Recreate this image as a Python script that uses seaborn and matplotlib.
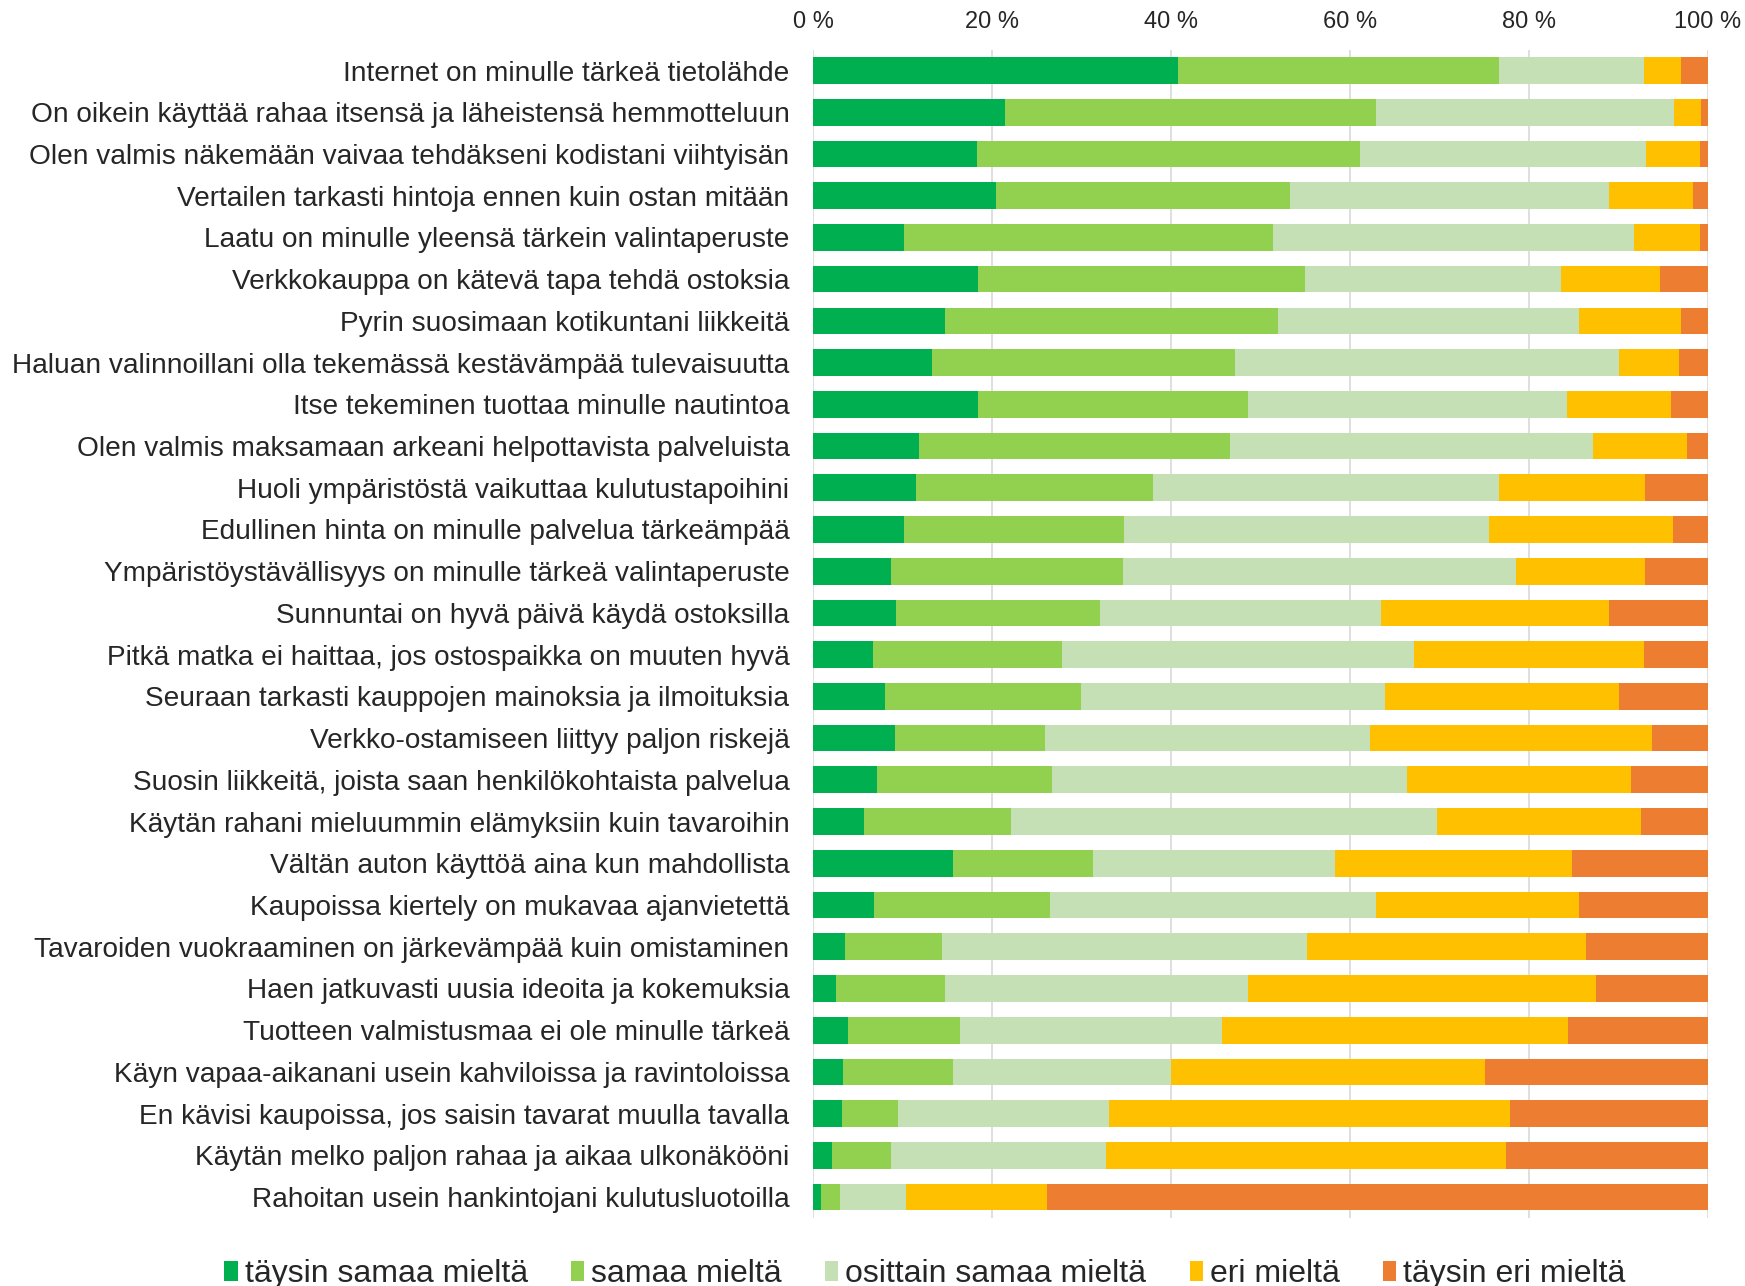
import matplotlib
matplotlib.use("Agg")
import matplotlib.pyplot as plt
from matplotlib.patches import Patch
import seaborn as sns
import pandas as pd
import numpy as np

statements = [
    "Internet on minulle tärkeä tietolähde",
    "On oikein käyttää rahaa itsensä ja läheistensä hemmotteluun",
    "Olen valmis näkemään vaivaa tehdäkseni kodistani viihtyisän",
    "Vertailen tarkasti hintoja ennen kuin ostan mitään",
    "Laatu on minulle yleensä tärkein valintaperuste",
    "Verkkokauppa on kätevä tapa tehdä ostoksia",
    "Pyrin suosimaan kotikuntani liikkeitä",
    "Haluan valinnoillani olla tekemässä kestävämpää tulevaisuutta",
    "Itse tekeminen tuottaa minulle nautintoa",
    "Olen valmis maksamaan arkeani helpottavista palveluista",
    "Huoli ympäristöstä vaikuttaa kulutustapoihini",
    "Edullinen hinta on minulle palvelua tärkeämpää",
    "Ympäristöystävällisyys on minulle tärkeä valintaperuste",
    "Sunnuntai on hyvä päivä käydä ostoksilla",
    "Pitkä matka ei haittaa, jos ostospaikka on muuten hyvä",
    "Seuraan tarkasti kauppojen mainoksia ja ilmoituksia",
    "Verkko-ostamiseen liittyy paljon riskejä",
    "Suosin liikkeitä, joista saan henkilökohtaista palvelua",
    "Käytän rahani mieluummin elämyksiin kuin tavaroihin",
    "Vältän auton käyttöä aina kun mahdollista",
    "Kaupoissa kiertely on mukavaa ajanvietettä",
    "Tavaroiden vuokraaminen on järkevämpää kuin omistaminen",
    "Haen jatkuvasti uusia ideoita ja kokemuksia",
    "Tuotteen valmistusmaa ei ole minulle tärkeä",
    "Käyn vapaa-aikanani usein kahviloissa ja ravintoloissa",
    "En kävisi kaupoissa, jos saisin tavarat muulla tavalla",
    "Käytän melko paljon rahaa ja aikaa ulkonäkööni",
    "Rahoitan usein hankintojani kulutusluotoilla",
]

taysin_samaa = [40.8, 21.4, 18.3, 20.4, 10.2, 18.4, 14.7, 13.3, 18.4, 11.8, 11.5, 10.2, 8.7, 9.3,
                6.7, 8.0, 9.2, 7.1, 5.7, 15.6, 6.8, 3.6, 2.6, 3.9, 3.4, 3.2, 2.1, 0.9]
samaa = [35.9, 41.5, 42.8, 32.9, 41.2, 36.6, 37.3, 33.9, 30.2, 34.8, 26.5, 24.6, 25.9, 22.8,
         21.1, 21.9, 16.7, 19.6, 16.4, 15.7, 19.7, 10.8, 12.2, 12.5, 12.2, 6.3, 6.6, 2.1]
osittain = [16.2, 33.3, 32.0, 35.6, 40.3, 28.6, 33.6, 42.8, 35.7, 40.6, 38.6, 40.7, 44.0, 31.4,
            39.3, 34.0, 36.3, 39.7, 47.6, 27.0, 36.4, 40.8, 33.8, 29.3, 24.4, 23.6, 24.0, 7.4]
eri = [4.1, 3.0, 6.0, 9.4, 7.4, 11.0, 11.4, 6.8, 11.6, 10.5, 16.4, 20.6, 14.4, 25.4,
       25.7, 26.1, 31.5, 25.0, 22.8, 26.5, 22.7, 31.2, 38.9, 38.7, 35.1, 44.8, 44.7, 15.8]
taysin_eri = [3.0, 0.8, 0.9, 1.7, 0.9, 5.4, 3.0, 3.2, 4.1, 2.3, 7.0, 3.9, 7.0, 11.1,
              7.2, 10.0, 6.3, 8.6, 7.5, 15.2, 14.4, 13.6, 12.5, 15.6, 24.9, 22.1, 22.6, 73.8]

series_names = ["täysin samaa mieltä", "samaa mieltä", "osittain samaa mieltä",
                "eri mieltä", "täysin eri mieltä"]
colors = ["#00B050", "#92D050", "#C5E0B4", "#FFC000", "#ED7D31"]
xticks = [0, 20, 40, 60, 80, 100]
xtick_labels = ["0 %", "20 %", "40 %", "60 %", "80 %", "100 %"]

df = pd.DataFrame({
    "statement": statements,
    series_names[0]: taysin_samaa,
    series_names[1]: samaa,
    series_names[2]: osittain,
    series_names[3]: eri,
    series_names[4]: taysin_eri,
})
cum = df[series_names].cumsum(axis=1)
cum = cum.div(cum[series_names[-1]], axis=0) * 100

sns.set_theme(style="white")
plt.rcParams['font.family'] = ['Liberation Sans', 'DejaVu Sans']

fig = plt.figure(figsize=(17.45, 12.86), dpi=100)
ax = fig.add_axes([0.4659, 0.0529, 0.5129, 0.9085])

for name, col in reversed(list(zip(series_names, colors))):
    sns.barplot(x=cum[name], y=df["statement"], order=statements, orient="h",
                color=col, width=0.64, saturation=1, edgecolor="none", ax=ax, zorder=2)

ax.set_xlim(0, 100)
ax.set_ylim(len(statements) - 0.5, -0.5)
ax.set_xticks(xticks)
ax.set_xticklabels(xtick_labels, fontsize=17)
ax.xaxis.tick_top()
ax.tick_params(axis='x', length=0, pad=12)
ax.tick_params(axis='y', length=0, pad=17, labelsize=20.2)
ax.set_xlabel("")
ax.set_ylabel("")
ax.grid(axis='x', color='#D9D9D9', linewidth=1.2, zorder=0)
ax.set_axisbelow(True)
for s in ax.spines.values():
    s.set_visible(False)

handles = [Patch(facecolor=c, edgecolor='none') for c in colors]
fig.legend(handles, series_names, loc='lower center', bbox_to_anchor=(925 / 1745, -0.025),
           ncol=5, frameon=False, handlelength=0.42, handleheight=0.6, handletextpad=0.22,
           columnspacing=1.35, prop={'size': 23})

fig.savefig("out.png", dpi=100)
